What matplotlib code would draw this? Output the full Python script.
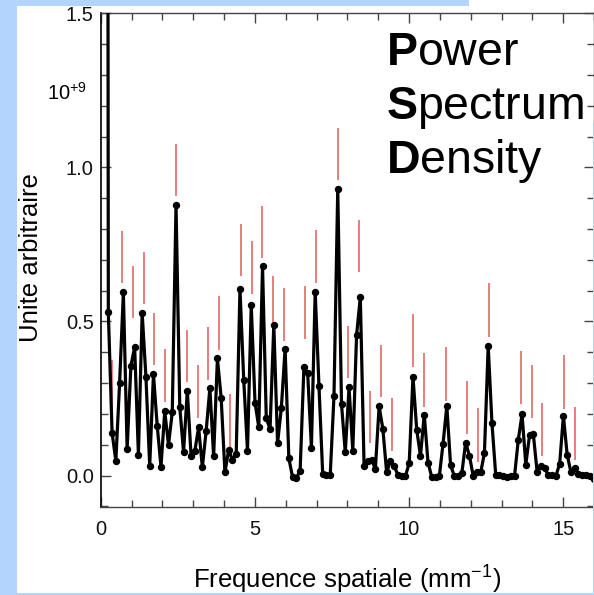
import matplotlib
matplotlib.use("Agg")
import matplotlib.pyplot as plt
from matplotlib.patches import Rectangle
from matplotlib.ticker import MultipleLocator, FormatStrFormatter

plt.rcParams["font.family"] = ["Liberation Sans", "DejaVu Sans"]
plt.rcParams["mathtext.fontset"] = "custom"
plt.rcParams["mathtext.rm"] = "Liberation Sans"
plt.rcParams["mathtext.it"] = "Liberation Sans:italic"
plt.rcParams["mathtext.bf"] = "Liberation Sans:bold"

# spatial frequency bins (mm^-1)
freq = [
    0.122, 0.244, 0.366, 0.488, 0.610, 0.732, 0.854, 0.976, 1.098, 1.220,
    1.342, 1.464, 1.586, 1.708, 1.830, 1.952, 2.074, 2.196, 2.318, 2.440,
    2.562, 2.684, 2.806, 2.928, 3.050, 3.172, 3.294, 3.416, 3.538, 3.660,
    3.782, 3.904, 4.026, 4.148, 4.270, 4.392, 4.514, 4.636, 4.758, 4.880,
    5.002, 5.124, 5.246, 5.368, 5.490, 5.612, 5.734, 5.856, 5.978, 6.100,
    6.222, 6.344, 6.466, 6.588, 6.710, 6.832, 6.954, 7.076, 7.198, 7.320,
    7.442, 7.564, 7.686, 7.808, 7.930, 8.052, 8.174, 8.296, 8.418, 8.540,
    8.662, 8.784, 8.906, 9.028, 9.150, 9.272, 9.394, 9.516, 9.638, 9.760,
    9.882, 10.004, 10.126, 10.248, 10.370, 10.492, 10.614, 10.736, 10.858, 10.980,
    11.102, 11.224, 11.346, 11.468, 11.590, 11.712, 11.834, 11.956, 12.078, 12.200,
    12.322, 12.444, 12.566, 12.688, 12.810, 12.932, 13.054, 13.176, 13.298, 13.420,
    13.542, 13.664, 13.786, 13.908, 14.030, 14.152, 14.274, 14.396, 14.518, 14.640,
    14.762, 14.884, 15.006, 15.128, 15.250, 15.372, 15.494, 15.616, 15.738, 15.860,
    15.982,
]

# power spectrum density (x 1e9, arbitrary units); first bin is off scale
psd = [
    12.0, 0.530, 0.138, 0.048, 0.300, 0.594, 0.086, 0.356, 0.417, 0.067,
    0.527, 0.320, 0.031, 0.329, 0.161, 0.029, 0.208, 0.100, 0.205, 0.879,
    0.222, 0.076, 0.275, 0.064, 0.080, 0.156, 0.027, 0.143, 0.284, 0.062,
    0.380, 0.253, 0.010, 0.083, 0.051, 0.069, 0.606, 0.311, 0.080, 0.554,
    0.237, 0.157, 0.679, 0.186, 0.151, 0.489, 0.105, 0.219, 0.411, 0.056,
    -0.006, -0.008, 0.016, 0.351, 0.332, 0.091, 0.597, 0.292, 0.005, 0.003,
    0.002, 0.259, 0.930, 0.232, 0.075, 0.286, 0.080, 0.455, 0.579, 0.031,
    0.048, 0.052, 0.021, 0.225, 0.151, 0.010, 0.048, 0.031, 0.002, -0.002,
    -0.002, 0.041, 0.321, 0.148, 0.064, 0.198, 0.042, -0.005, -0.005, -0.003,
    0.104, 0.226, 0.034, -0.002, -0.003, 0.008, 0.107, 0.065, 0.000, 0.011,
    0.010, 0.073, 0.421, 0.170, 0.002, 0.001, 0.000, -0.004, -0.003, -0.002,
    0.116, 0.199, 0.035, 0.132, 0.134, 0.013, 0.031, 0.024, 0.001, 0.001,
    -0.001, 0.038, 0.194, 0.067, 0.011, 0.026, 0.006, 0.002, 0.002, -0.003,
    -0.010,
]

# red marker segments (expected harmonics)
mark_x = [0.35, 0.70, 1.03, 1.39, 1.74, 2.08, 2.44, 2.79, 3.14, 3.49,
          3.84, 4.19, 4.55, 4.89, 5.24, 5.60, 5.94, 6.63, 6.98, 7.68,
          8.03, 8.38, 8.73, 9.08, 9.43, 10.14, 10.48, 11.19, 11.89, 12.22,
          12.58, 13.62, 13.98, 14.32, 15.02, 15.38]
mark_lo = [0.208, 0.625, 0.511, 0.556, 0.358, 0.240, 0.906, 0.302, 0.186, 0.311,
           0.408, 0.094, 0.646, 0.590, 0.705, 0.477, 0.435, 0.442, 0.625, 0.958,
           0.316, 0.659, 0.105, 0.255, 0.080, 0.351, 0.224, 0.243, 0.134, 0.045,
           0.451, 0.232, 0.186, 0.062, 0.217, 0.051]
mark_hi = [0.375, 0.795, 0.681, 0.725, 0.527, 0.411, 1.077, 0.473, 0.358, 0.482,
           0.581, 0.264, 0.816, 0.760, 0.876, 0.648, 0.608, 0.614, 0.798, 1.128,
           0.485, 0.830, 0.274, 0.425, 0.251, 0.524, 0.397, 0.416, 0.307, 0.219,
           0.625, 0.405, 0.359, 0.235, 0.390, 0.224]

x_ticks = [0, 5, 10, 15]
y_ticks = [0.0, 0.5, 1.0, 1.5]

blue = "#b3d4fc"
axcol = "#444444"

fig = plt.figure(figsize=(5.94, 5.95), dpi=100, facecolor="white")
ax = fig.add_axes([0.1697, 0.1474, 0.8304, 0.8303])

ax.vlines(mark_x, mark_lo, mark_hi, colors="#e05a5a", linewidth=1.1, zorder=2)
ax.plot(freq, psd, color="black", linewidth=2.3, marker="o", markersize=4.3,
        zorder=3)

ax.set_xlim(0, 16)
ax.set_ylim(-0.103, 1.5)
ax.set_xticks(x_ticks)
ax.set_yticks(y_ticks)
ax.xaxis.set_minor_locator(MultipleLocator(1))
ax.yaxis.set_minor_locator(MultipleLocator(0.1))
ax.yaxis.set_major_formatter(FormatStrFormatter("%.1f"))
ax.tick_params(which="both", direction="in", top=True, right=True,
               color=axcol, width=1.0, labelsize=14.5, labelcolor="#111111")
ax.tick_params(which="major", length=7)
ax.tick_params(which="minor", length=5)
ax.tick_params(axis="x", which="major", pad=9)
ax.tick_params(axis="y", which="major", pad=5)
for s in ax.spines.values():
    s.set_color(axcol)
    s.set_linewidth(1.0)
ax.spines["left"].set_color("#111111")
ax.spines["left"].set_linewidth(1.3)

ax.set_xlabel(r"Frequence spatiale (mm$^{-1}$)", fontsize=18.5, va="baseline")
ax.xaxis.set_label_coords(0.5, -0.1655)
ax.set_ylabel("Unite arbitraire", fontsize=18.5, va="baseline")
ax.yaxis.set_label_coords(-0.1283, 0.505)

fig.text(47 / 594, 1 - 99.5 / 595, r"10$^{+9}$", fontsize=14.5,
         ha="left", va="baseline")

for i, (b, rest) in enumerate([("P", "ower"), ("S", "pectrum"), ("D", "ensity")]):
    fig.text(386 / 594, 1 - (65 + 54 * i) / 595,
             r"$\mathbf{%s}$%s" % (b, rest), fontsize=33.5,
             ha="left", va="baseline")

# slide background strips
fig.add_artist(Rectangle((0, 0), 17.3 / 594, 1, transform=fig.transFigure,
                         color=blue, lw=0, zorder=5))
fig.add_artist(Rectangle((0, 1 - 6 / 595), 469 / 594, 6 / 595,
                         transform=fig.transFigure, color=blue, lw=0, zorder=5))
fig.add_artist(Rectangle((0, 0), 1, 2.5 / 595, transform=fig.transFigure,
                         color=blue, lw=0, zorder=5))
fig.add_artist(Rectangle((592.7 / 594, 0), 1.5 / 594, 1 - 123 / 595,
                         transform=fig.transFigure, color=blue, lw=0, zorder=5))

fig.savefig("out.png", dpi=100, facecolor="white")
